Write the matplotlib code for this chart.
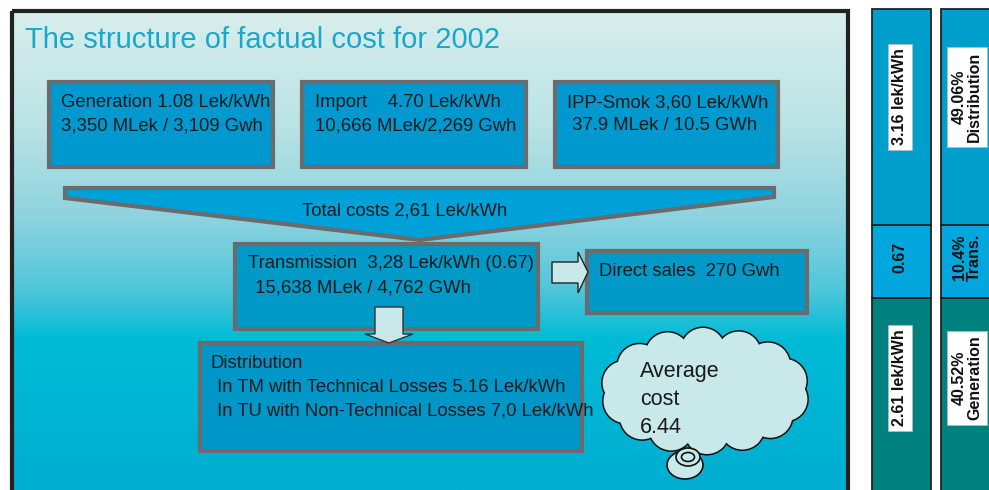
import numpy as np
import matplotlib.pyplot as plt
from matplotlib.patches import Rectangle, Polygon, Circle, Ellipse

plt.rcParams['font.family'] = ['Liberation Sans', 'DejaVu Sans']

title = 'The structure of factual cost for 2002'
top_boxes = [
    ['Generation 1.08 Lek/kWh', '3,350 MLek / 3,109 Gwh'],
    ['Import    4.70 Lek/kWh', '10,666 MLek/2,269 Gwh'],
    ['IPP-Smok 3,60 Lek/kWh', ' 37.9 MLek / 10.5 GWh'],
]
funnel_label = 'Total costs 2,61 Lek/kWh'
transmission = ['Transmission  3,28 Lek/kWh (0.67)', ' 15,638 MLek / 4,762 GWh']
direct_sales = 'Direct sales  270 Gwh'
distribution = ['Distribution', ' In TM with Technical Losses 5.16 Lek/kWh',
                ' In TU with Non-Technical Losses 7,0 Lek/kWh']
average = ['Average', 'cost', '6.44']

# right hand columns, bottom -> top
col_cost = ['2.61 lek/kWh', '0.67', '3.16 lek/kWh']
col_share = ['40.52%\nGeneration', '10.4%\nTrans.', '49.06%\nDistribution']
col_boxed = [True, False, True]
seg_bounds = [(298, 500), (225, 298), (9, 225)]
seg_label_y = [378, 257, 97]
seg_colors = ['#00807f', '#00a6dc', '#009ecb']

fig = plt.figure(figsize=(9.89, 4.90), dpi=100)
ax = fig.add_axes([0, 0, 1, 1])
ax.set_xlim(0, 989)
ax.set_ylim(490, 0)
ax.axis('off')

# background gradient of the main panel
ys = np.linspace(11, 490, 200)
stops_y = [11, 120, 220, 290, 340, 490]
stops_c = np.array([[0xd8, 0xee, 0xec], [0xbc, 0xe4, 0xe5], [0x8c, 0xd2, 0xdf],
                    [0x50, 0xc6, 0xda], [0x00, 0xbb, 0xd6], [0x00, 0xae, 0xd1]]) / 255
grad = np.stack([np.interp(ys, stops_y, stops_c[:, k]) for k in range(3)], axis=-1)
ax.imshow(grad[:, None, :], extent=(12, 848, 490, 11), aspect='auto', zorder=0)
ax.add_patch(Rectangle((12, 11), 836, 500, fill=False, ec='#222222', lw=3, zorder=6))

ax.text(25, 48, title, fontsize=21, color='#1ba6cc', va='baseline', zorder=5)

grey = '#6b6b6b'
box_fill = '#0099cf'
txt = '#1a1a1a'
fs = 13.3

def box(x0, y0, x1, y1, fc=box_fill):
    ax.add_patch(Rectangle((x0 + 2, y0 + 2), x1 - x0 - 4, y1 - y0 - 4,
                           fc=fc, ec=grey, lw=3, zorder=2))

def line(x, y, s, **kw):
    ax.text(x, y, s, fontsize=fs, color=txt, va='baseline', zorder=5, **kw)

box_x = [(47, 275, 61), (300, 528, 315), (553, 780, 567)]
for (x0, x1, tx), lines in zip(box_x, top_boxes):
    box(x0, 80, x1, 169)
    line(tx, 107, lines[0])
    line(tx, 130, lines[1])

# funnel
ax.add_patch(Polygon([(65, 188), (774, 188), (774, 197), (420, 240), (65, 198)],
                     closed=True, fc='#00a0d8', ec=grey, lw=3, zorder=2))
line(405, 215, funnel_label, ha='center')

# transmission
box(233, 242, 540, 331, fc='#0099c8')
line(248, 268, transmission[0])
line(250, 292, transmission[1])

# direct sales
box(585, 249, 809, 315, fc='#0099c8')
line(599, 276, direct_sales)

arrow_fc = '#c9e8ea'
ax.add_patch(Polygon([(552, 262), (578, 262), (578, 252), (588, 272), (578, 293),
                      (578, 283), (552, 283)], closed=True, fc=arrow_fc, ec='#222222',
                     lw=1, zorder=3))
ax.add_patch(Polygon([(375, 307), (403, 307), (403, 334), (413, 334), (389, 343),
                      (365, 334), (375, 334)], closed=True, fc=arrow_fc, ec='#333333',
                     lw=1, zorder=3))

# distribution
box(198, 341, 584, 453, fc='#0096c8')
line(211, 368, distribution[0])
line(212, 392, distribution[1])
line(212, 415, distribution[2])

# cloud
cx, cy, rx, ry, r = 705, 391, 82, 41, 22
ang = np.linspace(0, 2 * np.pi, 14, endpoint=False) + 0.2
pts = [(cx + rx * np.cos(a), cy + ry * np.sin(a)) for a in ang]
for p in pts:
    ax.add_patch(Circle(p, r, fc='none', ec='#111111', lw=2.2, zorder=3))
for p in pts:
    ax.add_patch(Circle(p, r, fc=arrow_fc, ec='none', zorder=3.1))
ax.add_patch(Ellipse((cx, cy), 2 * rx + r, 2 * ry + r, fc=arrow_fc, ec='none', zorder=3.2))
ax.add_patch(Ellipse((685, 465), 36, 28, fc=arrow_fc, ec='#111111', lw=1.2, zorder=3.3))
ax.add_patch(Ellipse((688, 457), 24, 18, fc=arrow_fc, ec='#111111', lw=1.2, zorder=3.4))
ax.add_patch(Ellipse((688, 457), 13, 9, fc=arrow_fc, ec='#111111', lw=1.2, zorder=3.5))
for s, yb in zip(average, [377, 405, 433]):
    ax.text(640, yb, s, fontsize=15.5, color=txt, va='baseline', zorder=5)

# right hand columns
for xc, tx, w, labels in [(901.5, 900, 59, col_cost), (970, 967, 58, col_share)]:
    for (t, b), col in zip(seg_bounds, seg_colors):
        ax.bar(xc, b - t, bottom=t, width=w, color=col, edgecolor='#222222',
               lw=1.3, zorder=2)
    for yc, lab, boxed in zip(seg_label_y, labels, col_boxed):
        kw = dict(boxstyle='square,pad=0.3', fc='white', ec='#bbbbbb', lw=0.5) if boxed else None
        ax.text(tx, yc, lab, rotation=90, fontsize=11.5, fontweight='bold', color='#111111',
                ha='center', va='center', multialignment='center', linespacing=1.0,
                bbox=kw, zorder=5)

fig.savefig('out.png', dpi=100)
